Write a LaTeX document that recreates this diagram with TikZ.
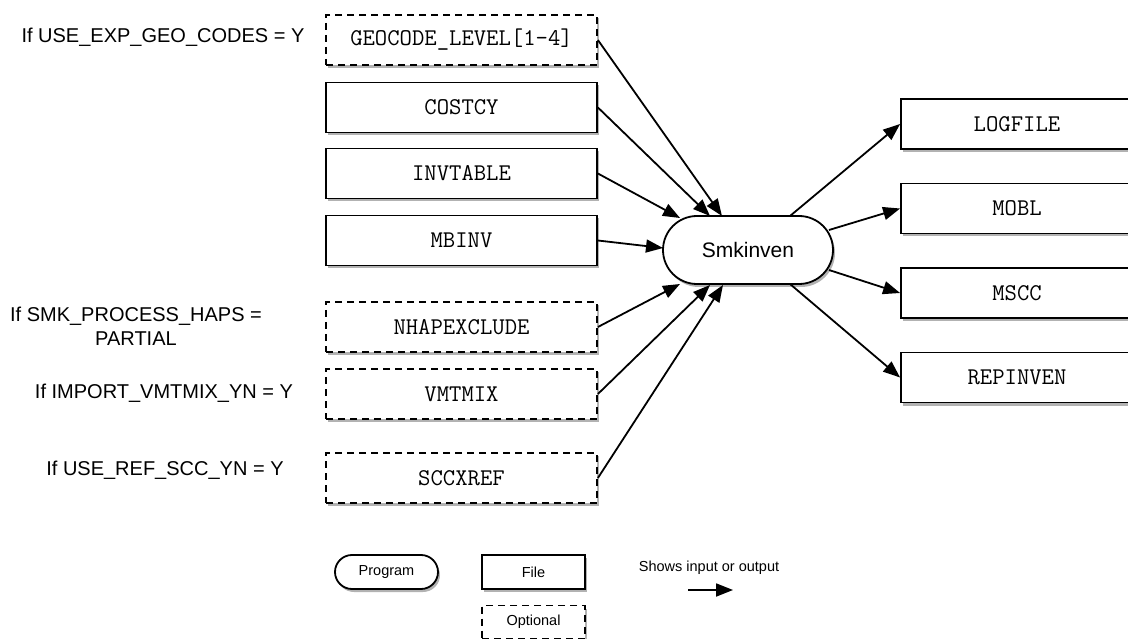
\documentclass[tikz,border=0pt]{standalone}
\usepackage{fontspec}
\setmainfont{Liberation Sans}
\usetikzlibrary{shapes.misc,shadows,arrows.meta}
\begin{document}
\begin{tikzpicture}[x=1pt,y=-1pt,
  shad/.style={drop shadow={shadow xshift=2pt,shadow yshift=-3pt,opacity=0.3,fill=black}},
  filebox/.style={draw=black,line width=1.8pt,fill=white,shad,minimum height=50pt,inner sep=0pt,font=\ttfamily\fontsize{24}{26}\selectfont},
  inbox/.style={filebox,minimum width=271pt},
  outbox/.style={filebox,minimum width=232pt},
  optbox/.style={dash pattern=on 7pt off 5pt},
  prog/.style={draw=black,line width=1.8pt,fill=white,shad,rounded rectangle,inner sep=0pt},
  lbl/.style={font=\fontsize{20}{24}\selectfont,align=center,inner sep=0pt},
  leg/.style={font=\fontsize{14.5}{17}\selectfont,inner sep=0pt},
  arr/.style={line width=1.8pt,-{Triangle[length=17pt,width=13pt]}}
]
\useasboundingbox (0,0) rectangle (1128,639);

% input files
\node[inbox,optbox] (geo) at (461.5,40) {GEOCODE\_LEVEL[1-4]};
\node[inbox] (cost) at (461.5,107.5) {COSTCY};
\node[inbox] (inv) at (461.5,173.5) {INVTABLE};
\node[inbox] (mb) at (461.5,240.5) {MBINV};
\node[inbox,optbox] (nhap) at (461.5,327) {NHAPEXCLUDE};
\node[inbox,optbox] (vmt) at (461.5,394) {VMTMIX};
\node[inbox,optbox] (scc) at (461.5,478) {SCCXREF};

% program
\node[prog,minimum width=170pt,minimum height=68pt,font=\fontsize{21}{24}\selectfont] (smk) at (748,250) {Smkinven};

% output files
\node[outbox] (log) at (1017,124) {LOGFILE};
\node[outbox] (mobl) at (1017,208.5) {MOBL};
\node[outbox] (mscc) at (1017,293) {MSCC};
\node[outbox] (rep) at (1017,377.5) {REPINVEN};

% condition labels
\node[lbl] (c1) at (163,37) {If USE\_EXP\_GEO\_CODES = Y};
\node[lbl] (c2) at (136,326) {If SMK\_PROCESS\_HAPS =\\PARTIAL};
\node[lbl] (c3) at (164,393) {If IMPORT\_VMTMIX\_YN = Y};
\node[lbl] (c4) at (165,470) {If USE\_REF\_SCC\_YN = Y};

% arrow end points on Smkinven
\coordinate (i1) at (722,216);
\coordinate (i2) at (710,216);
\coordinate (i3) at (680,218);
\coordinate (i4) at (663,248);
\coordinate (i5) at (680,284);
\coordinate (i6) at (710,285);
\coordinate (i7) at (723,285);
\coordinate (o1) at (790,216);
\coordinate (o2) at (829,230);
\coordinate (o3) at (829,270);
\coordinate (o4) at (790,284);

\draw[arr] (geo.east) -- (i1);
\draw[arr] (cost.east) -- (i2);
\draw[arr] (inv.east) -- (i3);
\draw[arr] (mb.east) -- (i4);
\draw[arr] (nhap.east) -- (i5);
\draw[arr] (vmt.east) -- (i6);
\draw[arr] (scc.east) -- (i7);

\draw[arr] (o1) -- (log.west);
\draw[arr] (o2) -- (mobl.west);
\draw[arr] (o3) -- (mscc.west);
\draw[arr] (o4) -- (rep.west);

% legend
\node[prog,minimum width=103pt,minimum height=34pt,leg] (lprog) at (386.5,572) {Program};
\node[draw=black,line width=1.8pt,fill=white,shad,minimum width=103pt,minimum height=34pt,leg] (lfile) at (533.5,572) {File};
\node[draw=black,line width=1.8pt,fill=white,shad,optbox,minimum width=103pt,minimum height=33pt,leg] (lopt) at (533.5,622) {Optional};
\node[leg] (ltxt) at (709,568) {Shows input or output};
\coordinate (la) at (688,590);
\coordinate (lb) at (733,590);
\draw[arr] (la) -- (lb);
\end{tikzpicture}
\end{document}
